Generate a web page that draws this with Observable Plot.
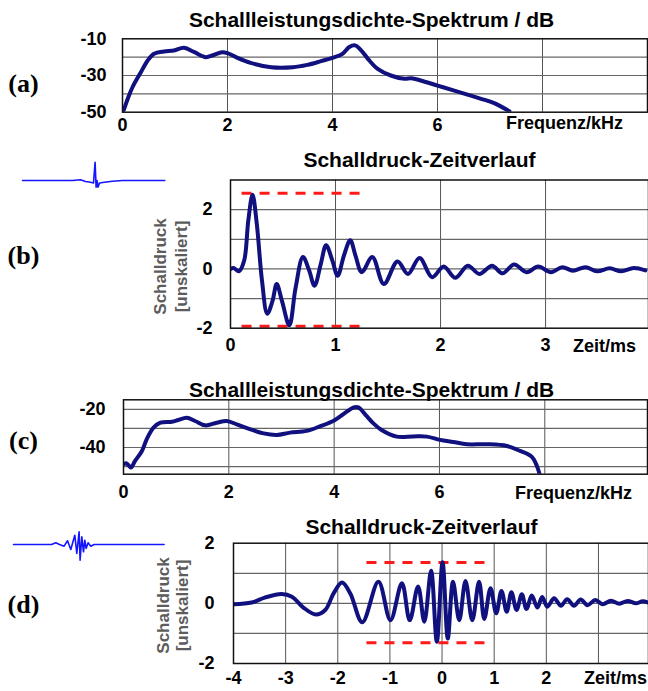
<!DOCTYPE html>
<html>
<head>
<meta charset="utf-8">
<script src="https://cdn.jsdelivr.net/npm/d3@7"></script>
<script src="https://cdn.jsdelivr.net/npm/@observablehq/plot@0.6"></script>
<style>
  html, body { margin: 0; padding: 0; background: #fff; }
  #root { position: relative; width: 648px; height: 691px; overflow: hidden; background: #fff; color: #000; }
  #root svg { position: absolute; overflow: visible; }
</style>
</head>
<body>
<div id="root"></div>
<script>
// ---------- DATA ----------
// Panel (a): power spectral density, dB vs kHz
const specA_f  = [0, 0.02, 0.1, 0.19, 0.35, 0.48, 0.6, 0.79, 0.98, 1.17, 1.37, 1.59, 1.71, 1.9, 2.0, 2.19, 2.44, 2.83, 3.24, 3.52, 3.78, 4.0, 4.19, 4.32, 4.43, 4.55, 4.7, 4.86, 5.11, 5.37, 5.5, 5.68, 6.0, 6.32, 6.57, 6.83, 7.08, 7.37];
const specA_db = [-50, -49, -42.7, -36.4, -28.2, -21.8, -18.2, -16.9, -16.4, -14.9, -17.3, -20, -19.1, -17.3, -17.8, -20.4, -23.1, -25.5, -25.5, -24.2, -22.2, -20.4, -18.2, -14.5, -13.6, -16.4, -21.8, -26.4, -30, -31.8, -31.5, -32.7, -35.5, -38.2, -40.4, -42.7, -45.1, -49.5];

// Panel (b): sound pressure vs time (ms)
const pulseB_t = [0, 0.03, 0.08, 0.13, 0.17, 0.21, 0.25, 0.3, 0.35, 0.4, 0.44, 0.49, 0.56, 0.62, 0.69, 0.75, 0.8, 0.86, 0.91, 0.97, 1.02, 1.08, 1.14, 1.19, 1.25, 1.35, 1.46, 1.59, 1.69, 1.8, 1.92, 2.03, 2.14, 2.26, 2.37, 2.49, 2.59, 2.7, 2.82, 2.93, 3.05, 3.16, 3.26, 3.38, 3.49, 3.61, 3.72, 3.84, 3.95];
const pulseB_p = [0, 0.03, -0.08, 0.28, 1.65, 2.5, 1.53, -0.4, -1.51, -1.08, -0.51, -1.08, -1.9, -0.63, 0.4, -0.06, -0.57, 0.17, 0.8, 0.28, -0.23, 0.45, 0.97, 0.45, -0.11, 0.4, -0.51, 0.25, -0.17, 0.37, -0.28, 0.08, -0.3, 0.11, -0.17, 0.11, -0.15, 0.15, -0.11, 0.08, -0.11, 0.06, -0.06, 0.06, -0.08, 0.02, -0.08, 0.03, -0.05];
const dashB_y = [2.55, -1.93];
const dashB_x = [0.11, 1.27];

// Panel (c): power spectral density, dB vs kHz
const specC_f  = [0, 0.06, 0.14, 0.22, 0.35, 0.44, 0.57, 0.7, 0.92, 1.04, 1.2, 1.36, 1.55, 1.77, 1.96, 2.15, 2.41, 2.66, 2.91, 3.16, 3.48, 3.73, 4.0, 4.22, 4.37, 4.46, 4.6, 4.75, 4.9, 5.19, 5.5, 5.76, 6.01, 6.26, 6.52, 6.9, 7.28, 7.53, 7.75, 7.85, 7.92];
const specC_db = [-48.8, -48.3, -50.5, -47, -41.8, -35.7, -29.6, -27, -26.5, -25.6, -24.4, -26.1, -28.4, -27, -26.1, -27.9, -30.5, -32.6, -33.4, -32.2, -31.3, -28.9, -25.8, -21.6, -19, -19, -23, -27.5, -30.8, -34.3, -34.2, -34.3, -36, -37.1, -38.3, -38.3, -39.2, -41.8, -44.8, -49.7, -56];

// Panel (d): sound pressure vs time (ms)
const pulseD_t = [-4.0, -3.65, -3.4, -3.08, -2.88, -2.66, -2.42, -2.24, -2.08, -1.92, -1.76, -1.53, -1.22, -0.99, -0.77, -0.62, -0.46, -0.34, -0.21, -0.1, 0.01, 0.11, 0.21, 0.33, 0.45, 0.58, 0.71, 0.81, 0.93, 1.04, 1.14, 1.24, 1.33, 1.43, 1.53, 1.62, 1.72, 1.83, 1.92, 2.02, 2.15, 2.28, 2.4, 2.53, 2.66, 2.79, 2.94, 3.08, 3.24, 3.4, 3.56, 3.72, 3.85, 3.96];
const pulseD_p = [-0.03, 0.03, 0.19, 0.31, 0.22, -0.14, -0.37, -0.22, 0.33, 0.69, 0.33, -0.63, 0.72, -0.56, 0.67, -0.56, 0.56, -0.61, 1.08, -1.28, 1.37, -1.17, 0.72, -0.56, 0.74, -0.56, 0.72, -0.52, 0.5, -0.33, 0.41, -0.28, 0.37, -0.22, 0.3, -0.19, 0.26, -0.14, 0.21, -0.11, 0.17, -0.08, 0.14, -0.08, 0.13, -0.06, 0.11, -0.03, 0.09, -0.01, 0.08, 0, 0.07, 0.02];
const dashD_y = [1.36, -1.31];
const dashD_x = [-1.44, 0.9];

// Small waveform icons (relative units)
const iconB_x = [0, 50, 58, 63, 68, 71, 72.6, 73.6, 74.5, 75.5, 77, 82, 90, 100, 142.3];
const iconB_y = [0, 0, 0.7, -1, -1.7, -2.5, 18.3, -6.7, 0, -6.7, -2.5, -1.7, -0.7, 0, 0];
const iconD_x = [0, 38, 42.3, 46, 50.6, 54, 57.3, 61.3, 63.3, 65.6, 66.6, 68.3, 70, 71.3, 72.6, 74.6, 77.3, 80.6, 150.6];
const iconD_y = [0, 0, 1.7, 0, -1.7, 3.7, -5, 9.3, -9, 12.7, -15.7, 7.7, -7.3, 4.3, -4, 1.7, -1.7, 0, 0];

// Texts
const titleSpec = "Schallleistungsdichte-Spektrum / dB";
const titleTime = "Schalldruck-Zeitverlauf";
const xLabelF = "Frequenz/kHz";
const xLabelT = "Zeit/ms";
const yLabelLines = ["Schalldruck", "[unskaliert]"];
const letters = ["(a)", "(b)", "(c)", "(d)"];

// ---------- RENDER ----------
const NAVY = "#10107e";
const SANS = "Arial, 'Liberation Sans', sans-serif";
const SERIF = "'Times New Roman', 'Liberation Serif', serif";
const root = document.getElementById("root");

function zip(xs, ys) { return xs.map((x, i) => ({x, y: ys[i]})); }

function panel(o) {
  const mt = o.frameTop - o.top, mb = o.top + o.height - o.frameBottom;
  const rel = (cx, cy) => ({dx: cx - o.frameLeft, dy: cy - o.frameTop});
  const marks = [
    Plot.ruleX(o.gridX, {stroke: "#555", strokeWidth: 1}),
    Plot.ruleY(o.gridY, {stroke: "#666", strokeWidth: 1.2})
  ];
  if (o.dashY) {
    const dd = o.dashY.map(y => ({y, x1: o.dashX[0], x2: o.dashX[1]}));
    marks.push(Plot.ruleY(dd, {y: "y", x1: "x1", x2: "x2", stroke: "#ff1a1a", strokeWidth: 3, strokeDasharray: "10,8"}));
  }
  marks.push(Plot.line(o.data, {x: "x", y: "y", stroke: NAVY, strokeWidth: 4, curve: "catmull-rom", clip: true, strokeLinejoin: "round", strokeLinecap: "round"}));
  marks.push(Plot.frame({stroke: "#111", strokeWidth: 1.5}));
  marks.push(Plot.axisX({ticks: o.xTicks, tickSize: 0, tickPadding: o.xPad, tickFormat: d => String(d), label: null, fontSize: 18, fontWeight: "bold", fontFamily: SANS}));
  marks.push(Plot.axisY({ticks: o.yTicks, tickSize: 0, tickPadding: o.yPad, tickFormat: d => String(d), label: null, fontSize: 18, fontWeight: "bold", fontFamily: SANS}));
  const t = rel(o.title[1], o.title[2]);
  marks.push(Plot.text([o.title[0]], {text: d => d, frameAnchor: "top-left", dx: t.dx, dy: t.dy, textAnchor: "middle", lineAnchor: "middle", fontSize: 21, fontWeight: "bold", fontFamily: SANS, fill: "#000"}));
  const l = rel(o.letter[1], o.letter[2]);
  marks.push(Plot.text([o.letter[0]], {text: d => d, frameAnchor: "top-left", dx: l.dx, dy: l.dy, textAnchor: "middle", lineAnchor: "middle", fontSize: 26, fontWeight: "bold", fontFamily: SERIF, fill: "#000"}));
  const xl = rel(o.xLabel[1], o.xLabel[2]);
  marks.push(Plot.text([o.xLabel[0]], {text: d => d, frameAnchor: "top-left", dx: xl.dx, dy: xl.dy, textAnchor: "middle", lineAnchor: "middle", fontSize: 18, fontWeight: "bold", fontFamily: SANS, fill: "#000"}));
  if (o.yLabel) {
    o.yLabel.forEach((s, i) => {
      const p = rel(o.yLabelX[i], o.yLabelY);
      marks.push(Plot.text([s], {text: d => d, frameAnchor: "top-left", dx: p.dx, dy: p.dy, rotate: -90, textAnchor: "middle", lineAnchor: "middle", fontSize: 17, fontWeight: "bold", fontFamily: SANS, fill: "#5c5c5c"}));
    });
  }
  const svg = Plot.plot({
    width: 648, height: o.height,
    marginLeft: o.frameLeft, marginRight: 648 - o.frameRight,
    marginTop: mt, marginBottom: mb,
    x: {domain: o.xDomain},
    y: {domain: o.yDomain},
    style: {fontFamily: SANS, fontSize: "18px", background: "transparent", overflow: "visible"},
    marks
  });
  svg.style.left = "0px";
  svg.style.top = o.top + "px";
  root.appendChild(svg);
}

function icon(xs, ys, left, baseY, w) {
  const svg = Plot.plot({
    width: w + 8, height: 40, marginLeft: 4, marginRight: 4, marginTop: 0, marginBottom: 0,
    x: {domain: [0, w], axis: null},
    y: {domain: [-20, 20], axis: null},
    style: {background: "transparent", overflow: "visible"},
    marks: [Plot.line(zip(xs, ys), {x: "x", y: "y", stroke: "#1414ff", strokeWidth: 1.6})]
  });
  svg.style.left = (left - 4) + "px";
  svg.style.top = (baseY - 20) + "px";
  root.appendChild(svg);
}

panel({
  top: 0, height: 140, frameTop: 38.3, frameBottom: 111.7, frameLeft: 122, frameRight: 647,
  xDomain: [0, 10], yDomain: [-50, -10],
  gridX: [2, 4, 6, 8], gridY: [-20, -30, -40],
  xTicks: [0, 2, 4, 6], yTicks: [-10, -30, -50], xPad: 6, yPad: 16,
  data: zip(specA_f, specA_db),
  title: [titleSpec, 371, 20], letter: [letters[0], 23, 83], xLabel: [xLabelF, 564, 123]
});

panel({
  top: 140, height: 220, frameTop: 179.5, frameBottom: 327.7, frameLeft: 230, frameRight: 648,
  xDomain: [0, 3.98], yDomain: [-2, 3],
  gridX: [1, 2, 3], gridY: [2, 1, 0, -1],
  xTicks: [0, 1, 2, 3], yTicks: [2, 0, -2], xPad: 10, yPad: 18,
  data: zip(pulseB_t, pulseB_p), dashY: dashB_y, dashX: dashB_x,
  title: [titleTime, 419, 160], letter: [letters[1], 23, 255], xLabel: [xLabelT, 604, 346],
  yLabel: yLabelLines, yLabelX: [160, 181], yLabelY: 266
});

panel({
  top: 370, height: 130, frameTop: 399.3, frameBottom: 473.7, frameLeft: 123, frameRight: 647,
  xDomain: [0, 9.95], yDomain: [-54, -15],
  gridX: [2, 4, 6, 8], gridY: [-20, -30, -40, -50],
  xTicks: [0, 2, 4, 6], yTicks: [-20, -40], xPad: 11, yPad: 18,
  data: zip(specC_f, specC_db),
  title: [titleSpec, 371, 390], letter: [letters[2], 23, 440], xLabel: [xLabelF, 573, 493]
});

panel({
  top: 505, height: 186, frameTop: 542.7, frameBottom: 663, frameLeft: 233, frameRight: 648,
  xDomain: [-4, 3.96], yDomain: [-2, 2],
  gridX: [-3, -2, -1, 0, 1, 2, 3], gridY: [1, 0, -1],
  xTicks: [-4, -3, -2, -1, 0, 1, 2], yTicks: [2, 0, -2], xPad: 8, yPad: 19,
  data: zip(pulseD_t, pulseD_p), dashY: dashD_y, dashX: dashD_x,
  title: [titleTime, 421, 527], letter: [letters[3], 23, 604], xLabel: [xLabelT, 615, 678],
  yLabel: yLabelLines, yLabelX: [163, 182], yLabelY: 605
});

icon(iconB_x, iconB_y, 21.7, 180, 142.3);
icon(iconD_x, iconD_y, 12.7, 544.3, 150.6);
</script>
</body>
</html>
